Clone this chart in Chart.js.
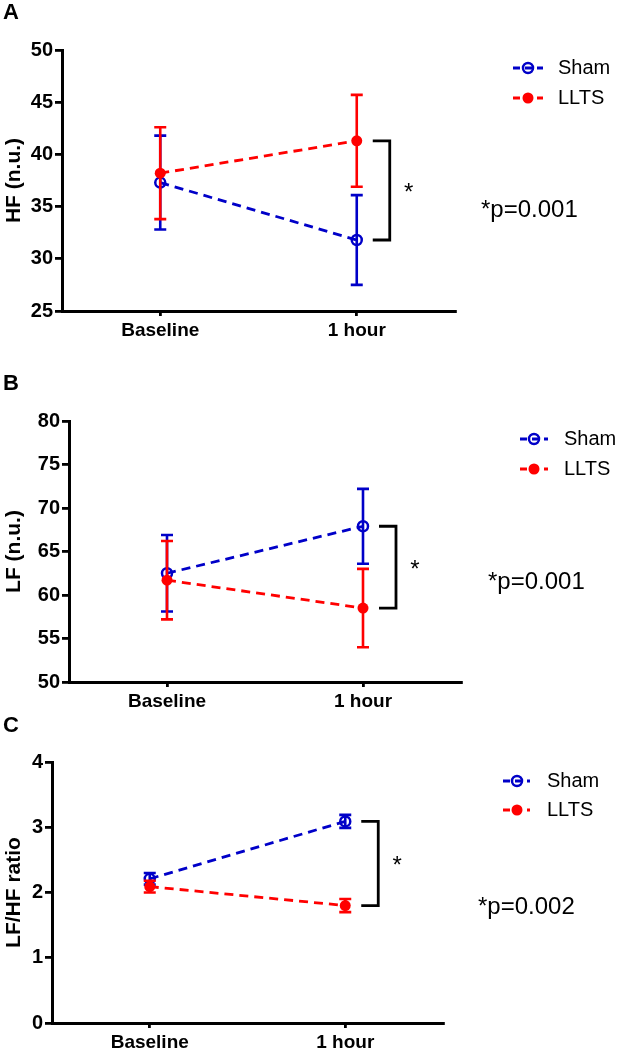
<!DOCTYPE html>
<html>
<head>
<meta charset="utf-8">
<script src="https://cdn.jsdelivr.net/npm/chart.js@4.4.1/dist/chart.umd.min.js"></script>
<style>
  body { margin: 0; background: #fff; }
  #page { position: relative; width: 618px; height: 1049px; overflow: hidden; }
  #page canvas { position: absolute; left: 0; }
</style>
</head>
<body>
<div id="page">
  <canvas id="chartA" width="618" height="345" style="top:0px"></canvas>
  <canvas id="chartB" width="618" height="372" style="top:340px"></canvas>
  <canvas id="chartC" width="618" height="349" style="top:700px"></canvas>
</div>
<script>
const xLabels = ['Baseline', '1 hour'];
const seriesNames = ['Sham', 'LLTS'];

// HF (n.u.)
const shamHF = [37.3, 31.8];
const shamHFErr = [4.5, 4.3];
const lltsHF = [38.2, 41.3];
const lltsHFErr = [4.4, 4.4];
const hfTicks = [25, 30, 35, 40, 45, 50];

// LF (n.u.)
const shamLF = [62.5, 67.9];
const shamLFErr = [4.4, 4.3];
const lltsLF = [61.7, 58.5];
const lltsLFErr = [4.5, 4.5];
const lfTicks = [50, 55, 60, 65, 70, 75, 80];

// LF/HF ratio
const shamRatio = [2.21, 3.09];
const shamRatioErr = [0.09, 0.1];
const lltsRatio = [2.09, 1.80];
const lltsRatioErr = [0.09, 0.1];
const ratioTicks = [0, 1, 2, 3, 4];

const pValues = ['*p=0.001', '*p=0.001', '*p=0.002'];

const FONT = '"Liberation Sans", Arial, sans-serif';
const BLUE = '#0000C8';
const RED = '#FF0000';

// canvas-local geometry of each panel
const panels = [
  { id: 'chartA', letter: 'A', letterY: 19, title: 'HF (n.u.)',
    sham: shamHF, shamErr: shamHFErr, llts: lltsHF, lltsErr: lltsHFErr, ticks: hfTicks, p: pValues[0],
    h: 345, top: 50, bottom: 311, left: 62, right: 455,
    legend: { x0: 513, x1: 543, mx: 528, tx: 558, y: [68, 98] }, pPos: [481, 210] },
  { id: 'chartB', letter: 'B', letterY: 50, title: 'LF (n.u.)',
    sham: shamLF, shamErr: shamLFErr, llts: lltsLF, lltsErr: lltsLFErr, ticks: lfTicks, p: pValues[1],
    h: 372, top: 81, bottom: 342, left: 69, right: 461,
    legend: { x0: 520, x1: 548, mx: 534, tx: 564, y: [99, 129] }, pPos: [488, 242] },
  { id: 'chartC', letter: 'C', letterY: 32, title: 'LF/HF ratio',
    sham: shamRatio, shamErr: shamRatioErr, llts: lltsRatio, lltsErr: lltsRatioErr, ticks: ratioTicks, p: pValues[2],
    h: 349, top: 62, bottom: 323, left: 52, right: 443,
    legend: { x0: 503, x1: 530, mx: 517, tx: 547, y: [81, 110] }, pPos: [478, 207] }
];

function drawMarker(ctx, ds, x, y) {
  ctx.beginPath();
  ctx.arc(x, y, 5, 0, Math.PI * 2);
  if (ds.pointStyleOpen) {
    ctx.lineWidth = 2.5;
    ctx.strokeStyle = ds.borderColor;
    ctx.stroke();
  } else {
    ctx.arc(x, y, 5.5, 0, Math.PI * 2);
    ctx.fillStyle = ds.borderColor;
    ctx.fill();
  }
}

const panelExtras = {
  id: 'panelExtras',
  beforeDatasetDraw(chart, args) {
    const ds = chart.data.datasets[args.index];
    const y = chart.scales.y;
    const ctx = chart.ctx;
    ctx.save();
    ctx.strokeStyle = ds.borderColor;
    ctx.lineWidth = 2.6;
    args.meta.data.forEach((pt, i) => {
      const hi = y.getPixelForValue(ds.data[i] + ds.errors[i]);
      const lo = y.getPixelForValue(ds.data[i] - ds.errors[i]);
      ctx.beginPath();
      ctx.moveTo(pt.x, hi); ctx.lineTo(pt.x, lo);
      ctx.moveTo(pt.x - 6, hi); ctx.lineTo(pt.x + 6, hi);
      ctx.moveTo(pt.x - 6, lo); ctx.lineTo(pt.x + 6, lo);
      ctx.stroke();
    });
    ctx.restore();
  },
  afterDraw(chart) {
    const p = chart.options.plugins.panelExtras.panel;
    const ctx = chart.ctx;
    const x = chart.scales.x;
    const y = chart.scales.y;
    ctx.save();

    // panel letter
    ctx.fillStyle = '#000';
    ctx.font = 'bold 22px ' + FONT;
    ctx.textBaseline = 'alphabetic';
    ctx.textAlign = 'left';
    ctx.fillText(p.letter, 3, p.letterY);

    // legend
    const lg = p.legend;
    chart.data.datasets.forEach((ds, i) => {
      const ly = lg.y[i];
      ctx.save();
      ctx.strokeStyle = ds.borderColor;
      ctx.lineWidth = 2.8;
      ctx.setLineDash([7, 5]);
      ctx.beginPath();
      ctx.moveTo(lg.x0, ly); ctx.lineTo(lg.x1, ly);
      ctx.stroke();
      ctx.restore();
      drawMarker(ctx, ds, lg.mx, ly);
      ctx.fillStyle = '#000';
      ctx.font = '20px ' + FONT;
      ctx.textBaseline = 'middle';
      ctx.fillText(ds.label, lg.tx, ly);
    });

    // significance bracket at 1 hour
    const xb = x.getPixelForValue(1);
    const ya = y.getPixelForValue(p.sham[1]);
    const yb = y.getPixelForValue(p.llts[1]);
    ctx.strokeStyle = '#000';
    ctx.lineWidth = 2.8;
    ctx.beginPath();
    ctx.moveTo(xb + 16, ya); ctx.lineTo(xb + 33, ya);
    ctx.lineTo(xb + 33, yb); ctx.lineTo(xb + 16, yb);
    ctx.stroke();
    ctx.fillStyle = '#000';
    ctx.font = '24px ' + FONT;
    ctx.textAlign = 'center';
    ctx.textBaseline = 'alphabetic';
    ctx.fillText('*', xb + 52, (ya + yb) / 2 + 10);

    // p value
    ctx.font = '24px ' + FONT;
    ctx.textAlign = 'left';
    ctx.textBaseline = 'middle';
    ctx.fillText(p.p, p.pPos[0], p.pPos[1]);
    ctx.restore();
  }
};

function makePanel(p) {
  const ctx = document.getElementById(p.id).getContext('2d');
  new Chart(ctx, {
    type: 'line',
    data: {
      labels: xLabels,
      datasets: [
        { label: seriesNames[0], data: p.sham, errors: p.shamErr, order: 1,
          borderColor: BLUE, backgroundColor: BLUE, borderWidth: 2.8, borderDash: [9, 6],
          pointRadius: 5, pointBorderWidth: 2.5, pointBackgroundColor: 'rgba(0,0,0,0)',
          pointBorderColor: BLUE, pointStyleOpen: true, fill: false, tension: 0 },
        { label: seriesNames[1], data: p.llts, errors: p.lltsErr, order: 0,
          borderColor: RED, backgroundColor: RED, borderWidth: 2.8, borderDash: [9, 6],
          pointRadius: 5.5, pointBorderWidth: 0, pointBackgroundColor: RED,
          pointBorderColor: RED, fill: false, tension: 0 }
      ]
    },
    options: {
      responsive: false,
      animation: false,
      devicePixelRatio: 1,
      layout: { padding: { top: p.top, left: 0, bottom: 0, right: 618 - p.right } },
      scales: {
        x: {
          type: 'category',
          offset: true,
          afterFit: s => { s.height = p.h - p.bottom; },
          grid: { drawOnChartArea: false, offset: false, color: '#000', lineWidth: 2.8, tickLength: 5 },
          border: { color: '#000', width: 3 },
          ticks: { color: '#000', padding: 3, font: { family: FONT, size: 19, weight: 'bold' } }
        },
        y: {
          min: p.ticks[0],
          max: p.ticks[p.ticks.length - 1],
          afterFit: s => { s.width = p.left; },
          afterBuildTicks: s => { s.ticks = p.ticks.map(v => ({ value: v })); },
          grid: { drawOnChartArea: false, color: '#000', lineWidth: 2.8, tickLength: 7 },
          border: { color: '#000', width: 3 },
          ticks: { color: '#000', padding: 2, font: { family: FONT, size: 20, weight: 'bold' } },
          title: { display: true, text: p.title, color: '#000', padding: { top: 2, bottom: 0 },
                   font: { family: FONT, size: 21, weight: 'bold' } }
        }
      },
      plugins: {
        legend: { display: false },
        tooltip: { enabled: false },
        panelExtras: { panel: p }
      }
    },
    plugins: [panelExtras]
  });
}

panels.forEach(makePanel);
</script>
</body>
</html>
